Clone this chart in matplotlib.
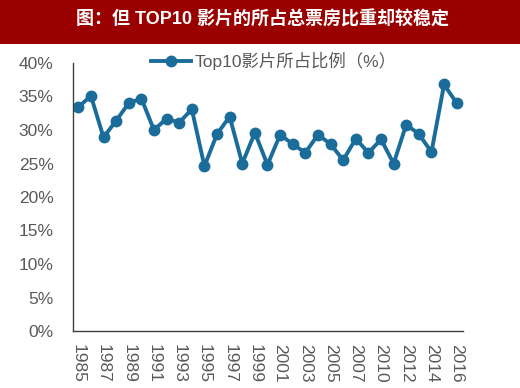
import matplotlib.pyplot as plt
from matplotlib.patches import Rectangle

plt.rcParams['font.family'] = ['Liberation Sans', 'Noto Sans CJK SC', 'DejaVu Sans']

# data (share of box office taken by the top 10 films, %)
years = list(range(1985, 2008)) + [2009] + list(range(2010, 2017))
share = [33.4, 35.1, 28.9, 31.4, 34.0, 34.7, 30.0, 31.7, 31.1, 33.1,
         24.6, 29.4, 32.0, 25.0, 29.6, 24.8, 29.3, 27.9, 26.6, 29.3,
         27.9, 25.5, 28.7, 26.6, 28.6, 25.0, 30.8, 29.4, 26.7, 36.8, 34.0]
tick_labels = ['1985', '1987', '1989', '1991', '1993', '1995', '1997', '1999',
               '2001', '2003', '2005', '2007', '2010', '2012', '2014', '2016']
yticks = [0, 5, 10, 15, 20, 25, 30, 35, 40]

title = '图：但 TOP10 影片的所占总票房比重却较稳定'
series_name = 'Top10影片所占比例（%）'

fig = plt.figure(figsize=(5.2, 3.88), dpi=100)

# red title band
fig.patches.append(Rectangle((0, 1 - 44 / 388), 1, 44 / 388, transform=fig.transFigure,
                             facecolor='#9B0000', edgecolor='none', zorder=0))
fig.text(262 / 520, 1 - 20 / 388, title, color='white', fontsize=13, fontweight='bold',
         ha='center', va='center', family=['Liberation Sans', 'Noto Sans CJK SC'])

ax = fig.add_axes([73 / 520, 1 - 331 / 388, 390 / 520, 268 / 388])
x = list(range(len(share)))
line, = ax.plot(x, share, color='#1A6C9A', lw=2.8, marker='o', ms=7.5,
                markerfacecolor='#1A6C9A', markeredgecolor='#1A6C9A')

ax.set_xlim(-0.42, 30.5)
ax.set_ylim(0, 40)
ax.set_yticks(yticks)
ax.set_yticklabels([f'{v}%' for v in yticks])
ax.set_xticks(x[::2])
ax.set_xticklabels(tick_labels, rotation=-90, va='top', ha='center')
ax.tick_params(length=0, labelsize=12.5, colors='#595959', pad=9)
ax.tick_params(axis='y', pad=14)

for s in ['top', 'right']:
    ax.spines[s].set_visible(False)
for s in ['left', 'bottom']:
    ax.spines[s].set_color('#404040')
    ax.spines[s].set_linewidth(1.0)

fig.legend([line], [series_name], loc='center', bbox_to_anchor=(274 / 520, 1 - 61 / 388),
           frameon=False, fontsize=12.5, handlelength=2.3, handletextpad=0.2,
           labelcolor='#595959')

fig.savefig('out.png', dpi=100)
